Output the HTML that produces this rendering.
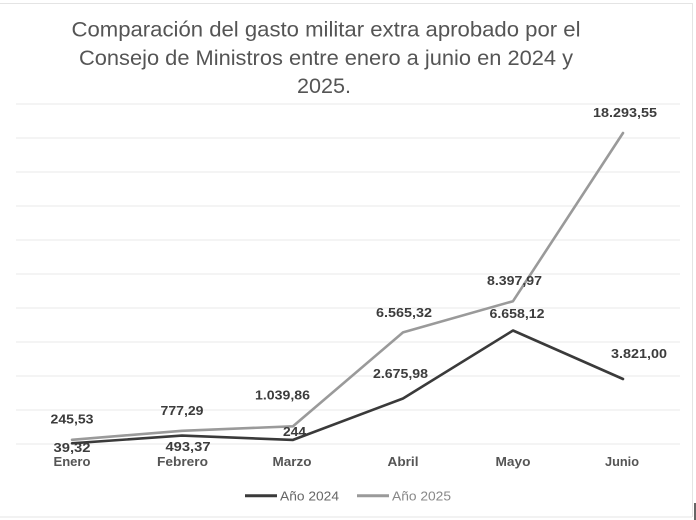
<!DOCTYPE html>
<html>
<head>
<meta charset="utf-8">
<style>
html,body{margin:0;padding:0;background:#fff;}
svg{display:block;}
text{font-family:"Liberation Sans",Arial,sans-serif;}
</style>
</head>
<body>
<svg width="696" height="520" viewBox="0 0 696 520" xmlns="http://www.w3.org/2000/svg">
<rect x="0" y="0" width="696" height="520" fill="#ffffff"/>
<!-- frame -->
<line x1="0" y1="3.5" x2="692" y2="3.5" stroke="#e4e4e4" stroke-width="1"/>
<line x1="692.5" y1="3" x2="692.5" y2="517" stroke="#e4e4e4" stroke-width="1"/>
<line x1="0" y1="517" x2="692" y2="517" stroke="#e4e4e4" stroke-width="1"/>
<rect x="694" y="503" width="2" height="17" fill="#666"/>

<!-- title -->
<g fill="#555555" font-size="21">
<text x="71.5" y="36.5" textLength="509" lengthAdjust="spacingAndGlyphs">Comparación del gasto militar extra aprobado por el</text>
<text x="79" y="65" textLength="494" lengthAdjust="spacingAndGlyphs">Consejo de Ministros entre enero a junio en 2024 y</text>
<text x="297" y="93" textLength="54" lengthAdjust="spacingAndGlyphs">2025.</text>
</g>

<!-- gridlines -->
<g stroke="#ededed" stroke-width="1.2">
<line x1="16" y1="104" x2="680" y2="104"/>
<line x1="16" y1="138" x2="680" y2="138"/>
<line x1="16" y1="172" x2="680" y2="172"/>
<line x1="16" y1="206" x2="680" y2="206"/>
<line x1="16" y1="240" x2="680" y2="240"/>
<line x1="16" y1="274" x2="680" y2="274"/>
<line x1="16" y1="308" x2="680" y2="308"/>
<line x1="16" y1="342" x2="680" y2="342"/>
<line x1="16" y1="376" x2="680" y2="376"/>
<line x1="16" y1="410" x2="680" y2="410"/>
<line x1="16" y1="444" x2="680" y2="444"/>
</g>

<!-- series -->
<polyline fill="none" stroke="#3a3a3a" stroke-width="2.6" stroke-linejoin="round" stroke-linecap="round"
 points="72,443.3 182,435.6 293,439.9 403,398.5 513,330.5 623,379"/>
<polyline fill="none" stroke="#9a9a9a" stroke-width="2.6" stroke-linejoin="round" stroke-linecap="round"
 points="72,439.8 182,430.8 293,426.3 403,332.4 513,301.2 623,133"/>

<!-- data labels -->
<g fill="#3c3c3c" font-size="12.5" font-weight="bold" text-anchor="middle">
<text x="72" y="423.5" textLength="43" lengthAdjust="spacingAndGlyphs">245,53</text>
<text x="72" y="452" textLength="37" lengthAdjust="spacingAndGlyphs">39,32</text>
<text x="182" y="415" textLength="43" lengthAdjust="spacingAndGlyphs">777,29</text>
<text x="188" y="451" textLength="45" lengthAdjust="spacingAndGlyphs">493,37</text>
<text x="282.5" y="399.5" textLength="55" lengthAdjust="spacingAndGlyphs">1.039,86</text>
<text x="294.5" y="436" textLength="23" lengthAdjust="spacingAndGlyphs">244</text>
<text x="404" y="316.8" textLength="56" lengthAdjust="spacingAndGlyphs">6.565,32</text>
<text x="400.5" y="377.8" textLength="55" lengthAdjust="spacingAndGlyphs">2.675,98</text>
<text x="514.5" y="285.2" textLength="55" lengthAdjust="spacingAndGlyphs">8.397,97</text>
<text x="517" y="317.8" textLength="55" lengthAdjust="spacingAndGlyphs">6.658,12</text>
<text x="639" y="357.8" textLength="56" lengthAdjust="spacingAndGlyphs">3.821,00</text>
<text x="625" y="117.2" textLength="64" lengthAdjust="spacingAndGlyphs">18.293,55</text>
</g>

<!-- category labels -->
<g fill="#555555" font-size="12.5" font-weight="bold" text-anchor="middle">
<text x="72" y="466" textLength="37" lengthAdjust="spacingAndGlyphs">Enero</text>
<text x="182.5" y="466" textLength="51" lengthAdjust="spacingAndGlyphs">Febrero</text>
<text x="292" y="466" textLength="39" lengthAdjust="spacingAndGlyphs">Marzo</text>
<text x="403" y="466" textLength="31" lengthAdjust="spacingAndGlyphs">Abril</text>
<text x="513" y="466" textLength="35" lengthAdjust="spacingAndGlyphs">Mayo</text>
<text x="622" y="466" textLength="34" lengthAdjust="spacingAndGlyphs">Junio</text>
</g>

<!-- legend -->
<line x1="245" y1="495.7" x2="277" y2="495.7" stroke="#3a3a3a" stroke-width="3"/>
<text x="280" y="500.3" fill="#666666" font-size="13" textLength="59" lengthAdjust="spacingAndGlyphs">Año 2024</text>
<line x1="357" y1="495.7" x2="389" y2="495.7" stroke="#9a9a9a" stroke-width="3"/>
<text x="392" y="500.3" fill="#888888" font-size="13" textLength="59" lengthAdjust="spacingAndGlyphs">Año 2025</text>
</svg>
</body>
</html>
